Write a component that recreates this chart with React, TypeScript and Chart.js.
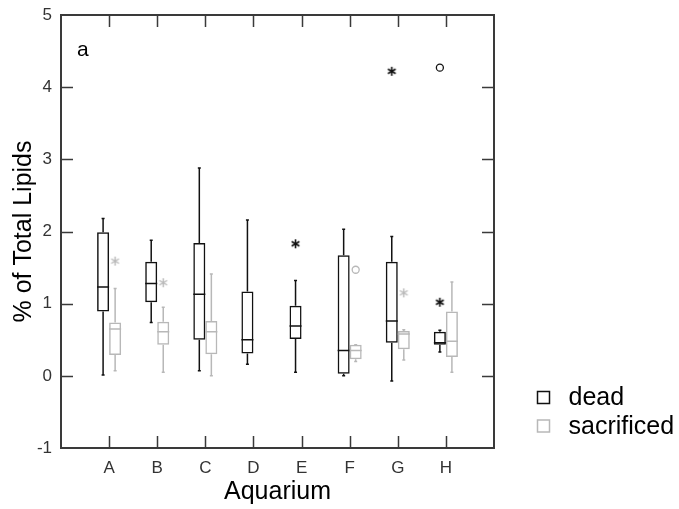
import React, { useEffect, useRef } from 'react';
import { Chart, registerables } from 'chart.js';

Chart.register(...registerables);

// ---- data ----
const categories = ['A', 'B', 'C', 'D', 'E', 'F', 'G', 'H'];
const seriesNames = ['dead', 'sacrificed'];

const deadMin = [0.01, 0.74, 0.07, 0.16, 0.05, 0.0, -0.07, 0.33];
const deadQ1 = [0.89, 1.02, 0.5, 0.31, 0.51, 0.03, 0.46, 0.43];
const deadMedian = [1.23, 1.28, 1.13, 0.5, 0.69, 0.35, 0.76, 0.46];
const deadQ3 = [1.99, 1.58, 1.84, 1.17, 0.97, 1.67, 1.58, 0.61];
const deadMax = [2.18, 1.88, 2.88, 2.16, 1.32, 2.03, 1.93, 0.63];

const sacMin = [0.07, 0.05, 0.0, null, null, 0.2, 0.22, 0.05];
const sacQ1 = [0.29, 0.43, 0.3, null, null, 0.23, 0.37, 0.26];
const sacMedian = [0.65, 0.61, 0.61, null, null, 0.35, 0.58, 0.48];
const sacQ3 = [0.74, 0.75, 0.76, null, null, 0.43, 0.62, 0.89];
const sacMax = [1.21, 0.95, 1.41, null, null, 0.43, 0.64, 1.3];

const deadStarCats = ['E', 'G', 'H'];
const deadStarValues = [1.83, 4.22, 1.02];
const deadCircleCats = ['H'];
const deadCircleValues = [4.27];
const sacStarCats = ['A', 'B', 'G'];
const sacStarValues = [1.59, 1.29, 1.15];
const sacCircleCats = ['F'];
const sacCircleValues = [1.47];

const panelLabel = 'a';
const yMin = -1;
const yMax = 5;

// ---- styles ----
const FONT = 'Arial, "Liberation Sans", sans-serif';
const DEAD_COLOR = '#111111';
const SAC_COLOR = '#b8b8b8';
const FRAME_COLOR = '#3a3a3a';
const CAT_PCT = 0.5;
const GROUP_OFFSET = CAT_PCT / 4;

const catPos = (c: string) => categories.indexOf(c) + 1;

const boxData = (q1: (number | null)[], q3: (number | null)[]) =>
  categories.map((_, i) => ({ x: i + 1, y: q1[i] == null ? null : [q1[i], q3[i]] }));

const outlierData = (cats: string[], vals: number[], side: number) =>
  cats.map((c, i) => ({ x: catPos(c) + side * GROUP_OFFSET, y: vals[i] }));

function makeAsterisk(color: string, lw: number) {
  const size = 13;
  const c = document.createElement('canvas');
  c.width = size;
  c.height = size;
  const g = c.getContext('2d')!;
  const r = 4.5;
  const cx = size / 2;
  const cy = size / 2;
  g.strokeStyle = color;
  g.lineWidth = lw;
  g.lineCap = 'butt';
  g.beginPath();
  [90, 30, 150].forEach((deg) => {
    const a = (deg * Math.PI) / 180;
    g.moveTo(cx - r * Math.cos(a), cy - r * Math.sin(a));
    g.lineTo(cx + r * Math.cos(a), cy + r * Math.sin(a));
  });
  g.stroke();
  return c;
}

const framePlugin = {
  id: 'frame',
  afterDatasetsDraw(chart: any) {
    const { ctx, chartArea: a, scales } = chart;
    const tl = 12;
    ctx.save();
    ctx.strokeStyle = FRAME_COLOR;
    ctx.lineWidth = 2;
    ctx.strokeRect(a.left, a.top, a.right - a.left, a.bottom - a.top);
    ctx.lineWidth = 1.5;
    ctx.beginPath();
    scales.y.ticks.forEach((t: any) => {
      if (t.value <= yMin || t.value >= yMax) return;
      const py = Math.round(scales.y.getPixelForValue(t.value)) + 0.5;
      ctx.moveTo(a.left, py);
      ctx.lineTo(a.left + tl, py);
      ctx.moveTo(a.right, py);
      ctx.lineTo(a.right - tl, py);
    });
    categories.forEach((_, i) => {
      const px = Math.round(scales.x.getPixelForValue(i + 1)) + 0.5;
      ctx.moveTo(px, a.bottom);
      ctx.lineTo(px, a.bottom - tl);
      ctx.moveTo(px, a.top);
      ctx.lineTo(px, a.top + tl);
    });
    ctx.stroke();
    ctx.fillStyle = '#000';
    ctx.font = `21px ${FONT}`;
    ctx.textAlign = 'left';
    ctx.textBaseline = 'alphabetic';
    ctx.fillText(panelLabel, a.left + 16, a.top + 41);
    ctx.restore();
  },
};

const whiskerPlugin = {
  id: 'whiskers',
  afterDatasetsDraw(chart: any) {
    const { ctx, scales } = chart;
    const y = scales.y;
    chart.data.datasets.forEach((ds: any, di: number) => {
      if (!ds.stats) return;
      const meta = chart.getDatasetMeta(di);
      const st = ds.stats;
      ctx.save();
      ctx.strokeStyle = ds.borderColor;
      ctx.lineWidth = 1.5;
      meta.data.forEach((el: any, j: number) => {
        if (st.median[j] == null) return;
        const x = el.x;
        const w = el.width;
        const pMin = y.getPixelForValue(st.min[j]);
        const pQ1 = y.getPixelForValue(st.q1[j]);
        const pMed = y.getPixelForValue(st.median[j]);
        const pQ3 = y.getPixelForValue(st.q3[j]);
        const pMax = y.getPixelForValue(st.max[j]);
        ctx.beginPath();
        ctx.moveTo(x, pQ3);
        ctx.lineTo(x, pMax);
        ctx.moveTo(x, pQ1);
        ctx.lineTo(x, pMin);
        ctx.moveTo(x - 1.5, pMax);
        ctx.lineTo(x + 1.5, pMax);
        ctx.moveTo(x - 1.5, pMin);
        ctx.lineTo(x + 1.5, pMin);
        ctx.moveTo(x - w / 2, pMed);
        ctx.lineTo(x + w / 2, pMed);
        ctx.stroke();
      });
      ctx.restore();
    });
  },
};

const legendPlugin = {
  id: 'sideLegend',
  afterDraw(chart: any) {
    const { ctx, chartArea: a } = chart;
    const items = chart.data.datasets.filter((d: any) => d.stats);
    const x0 = a.right + 43.5;
    const y0 = 391.5;
    const gap = 28.5;
    ctx.save();
    items.forEach((d: any, i: number) => {
      const yy = y0 + i * gap;
      ctx.strokeStyle = d.borderColor;
      ctx.lineWidth = 1.5;
      ctx.strokeRect(x0, yy, 12, 12);
      ctx.fillStyle = '#000';
      ctx.font = `25px ${FONT}`;
      ctx.textAlign = 'left';
      ctx.textBaseline = 'middle';
      ctx.fillText(d.label, x0 + 31, yy + 7);
    });
    ctx.restore();
  },
};

export default function App() {
  const ref = useRef<HTMLCanvasElement | null>(null);

  useEffect(() => {
    if (!ref.current) return;
    const deadStar = makeAsterisk(DEAD_COLOR, 1.6);
    const sacStar = makeAsterisk(SAC_COLOR, 1.4);
    const chart = new Chart(ref.current, {
      type: 'bar',
      data: {
        datasets: [
          {
            type: 'bar',
            label: seriesNames[0],
            data: boxData(deadQ1, deadQ3) as any,
            backgroundColor: 'rgba(255,255,255,0)',
            borderColor: DEAD_COLOR,
            borderWidth: 1.5,
            borderSkipped: false,
            categoryPercentage: CAT_PCT,
            barPercentage: 1,
            stats: { min: deadMin, q1: deadQ1, median: deadMedian, q3: deadQ3, max: deadMax },
          } as any,
          {
            type: 'bar',
            label: seriesNames[1],
            data: boxData(sacQ1, sacQ3) as any,
            backgroundColor: 'rgba(255,255,255,0)',
            borderColor: SAC_COLOR,
            borderWidth: 1.5,
            borderSkipped: false,
            categoryPercentage: CAT_PCT,
            barPercentage: 1,
            stats: { min: sacMin, q1: sacQ1, median: sacMedian, q3: sacQ3, max: sacMax },
          } as any,
          {
            type: 'scatter',
            label: 'dead outliers (*)',
            data: outlierData(deadStarCats, deadStarValues, -1),
            pointStyle: deadStar,
            borderColor: DEAD_COLOR,
          } as any,
          {
            type: 'scatter',
            label: 'dead outliers (o)',
            data: outlierData(deadCircleCats, deadCircleValues, -1),
            pointStyle: 'circle',
            radius: 3.5,
            backgroundColor: '#fff',
            borderColor: DEAD_COLOR,
            borderWidth: 1.3,
          } as any,
          {
            type: 'scatter',
            label: 'sacrificed outliers (*)',
            data: outlierData(sacStarCats, sacStarValues, 1),
            pointStyle: sacStar,
            borderColor: SAC_COLOR,
          } as any,
          {
            type: 'scatter',
            label: 'sacrificed outliers (o)',
            data: outlierData(sacCircleCats, sacCircleValues, 1),
            pointStyle: 'circle',
            radius: 3.5,
            backgroundColor: '#fff',
            borderColor: SAC_COLOR,
            borderWidth: 1.3,
          } as any,
        ],
      },
      options: {
        responsive: false,
        animation: false,
        layout: { padding: { top: 15, right: 185, bottom: 0, left: 0 } },
        plugins: {
          legend: { display: false },
          tooltip: { enabled: false },
        },
        scales: {
          x: {
            type: 'linear',
            min: 0,
            max: 9,
            offset: false,
            grid: { display: false, drawTicks: false },
            border: { display: false },
            afterFit: (s: any) => {
              s.height = 61;
              s.paddingLeft = 0;
              s.paddingRight = 0;
            },
            ticks: {
              stepSize: 1,
              autoSkip: false,
              maxRotation: 0,
              padding: 10,
              color: '#333',
              font: { family: FONT, size: 17 },
              callback: (v: any) => categories[Number(v) - 1] ?? '',
            },
            title: {
              display: true,
              text: 'Aquarium',
              color: '#000',
              font: { family: FONT, size: 25 },
              padding: { top: 0, bottom: 2 },
            },
          },
          y: {
            type: 'linear',
            min: yMin,
            max: yMax,
            grid: { display: false, drawTicks: false },
            border: { display: false },
            afterFit: (s: any) => {
              s.width = 61;
              s.paddingTop = 0;
              s.paddingBottom = 0;
            },
            ticks: {
              stepSize: 1,
              padding: 9,
              color: '#333',
              font: { family: FONT, size: 17 },
            },
            title: {
              display: true,
              text: '% of Total Lipids',
              color: '#000',
              font: { family: FONT, size: 25 },
              padding: { top: 9, bottom: 0 },
            },
          },
        },
      } as any,
      plugins: [framePlugin, whiskerPlugin, legendPlugin],
    });
    return () => chart.destroy();
  }, []);

  return (
    <div style={{ position: 'absolute', left: 0, top: 0, width: 679, height: 509, background: '#fff' }}>
      <canvas ref={ref} width={679} height={509} style={{ display: 'block' }} />
    </div>
  );
}
